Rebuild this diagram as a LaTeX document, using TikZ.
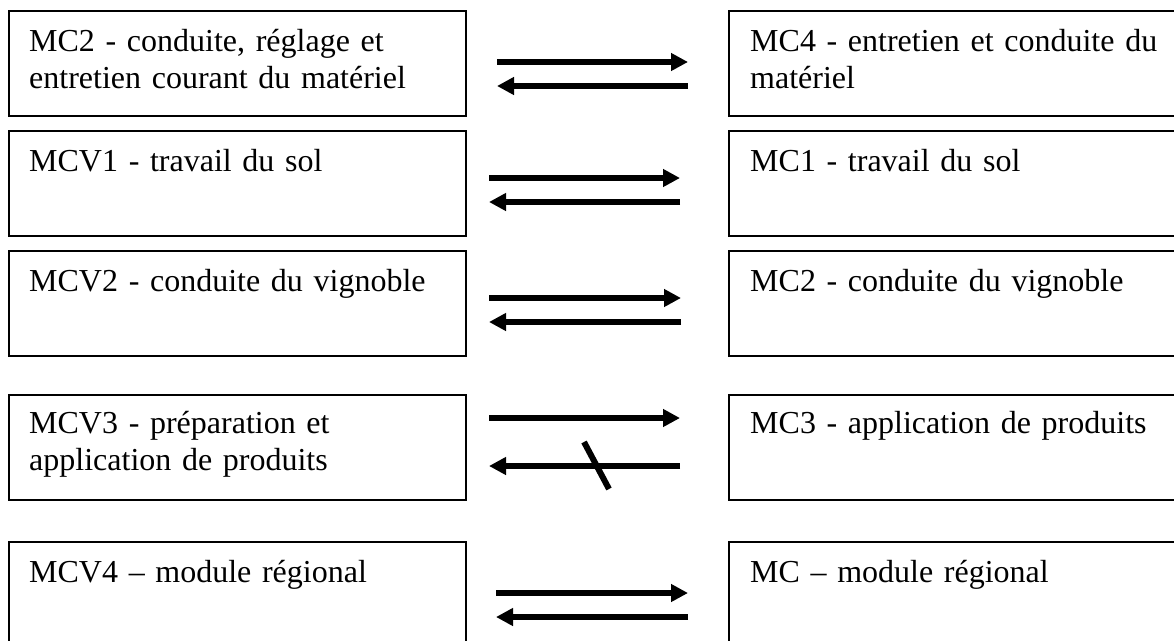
\documentclass[tikz,border=0pt]{standalone}
\usepackage{fontspec}
\setmainfont{Liberation Serif}
\usetikzlibrary{arrows.meta,calc}
\begin{document}
\begin{tikzpicture}[x=1pt,y=-1pt,
  box/.style={draw=black,line width=2pt,minimum width=457pt,minimum height=105pt,anchor=north west,inner sep=0pt},
  rbox/.style={box,minimum width=470pt},
  txt/.style={anchor=base west,inner sep=0pt,align=left,text width=440pt,
    font=\fontsize{32}{37}\selectfont},
  arr/.style={line width=6pt,-{Triangle[length=17pt,width=17pt]}},
  slash/.style={line width=6pt}]
\useasboundingbox (0,0) rectangle (1174,640);
\clip (0,0) rectangle (1174,640);
% left boxes
\node[box] (l1) at (8,10) {};
\node[box] (l2) at (8,130) {};
\node[box] (l3) at (8,250) {};
\node[box] (l4) at (8,394) {};
\node[box] (l5) at (8,541) {};
% right boxes
\node[rbox] (r1) at (728,10) {};
\node[rbox] (r2) at (728,130) {};
\node[rbox] (r3) at (728,250) {};
\node[rbox] (r4) at (728,394) {};
\node[rbox] (r5) at (728,541) {};
% texts
\node[txt] (tl1) at ($(l1.north west)+(21,41)$) {MC2 - conduite, réglage et\\entretien courant du matériel};
\node[txt] (tl2) at ($(l2.north west)+(21,41)$) {MCV1 - travail du sol};
\node[txt] (tl3) at ($(l3.north west)+(21,41)$) {MCV2 - conduite du vignoble};
\node[txt] (tl4) at ($(l4.north west)+(21,39)$) {MCV3 - préparation et\\application de produits};
\node[txt] (tl5) at ($(l5.north west)+(21,41)$) {MCV4 – module régional};
\node[txt] (tr1) at ($(r1.north west)+(22,41)$) {MC4 - entretien et conduite du\\matériel};
\node[txt] (tr2) at ($(r2.north west)+(22,41)$) {MC1 - travail du sol};
\node[txt] (tr3) at ($(r3.north west)+(22,41)$) {MC2 - conduite du vignoble};
\node[txt] (tr4) at ($(r4.north west)+(22,39)$) {MC3 - application de produits};
\node[txt] (tr5) at ($(r5.north west)+(22,41)$) {MC – module régional};
% arrow end points
\coordinate (a1l) at (497,62);  \coordinate (a1r) at (688,62);
\coordinate (b1l) at (497,86);  \coordinate (b1r) at (688,86);
\coordinate (a2l) at (489,178); \coordinate (a2r) at (680,178);
\coordinate (b2l) at (489,202); \coordinate (b2r) at (680,202);
\coordinate (a3l) at (489,298); \coordinate (a3r) at (681,298);
\coordinate (b3l) at (489,322); \coordinate (b3r) at (681,322);
\coordinate (a4l) at (489,418); \coordinate (a4r) at (680,418);
\coordinate (b4l) at (489,466); \coordinate (b4r) at (680,466);
\coordinate (s1) at (584,442);  \coordinate (s2) at (609,489);
\coordinate (a5l) at (496,593); \coordinate (a5r) at (688,593);
\coordinate (b5l) at (496,617); \coordinate (b5r) at (688,617);
% arrows
\draw[arr] (a1l) -- (a1r); \draw[arr] (b1r) -- (b1l);
\draw[arr] (a2l) -- (a2r); \draw[arr] (b2r) -- (b2l);
\draw[arr] (a3l) -- (a3r); \draw[arr] (b3r) -- (b3l);
\draw[arr] (a4l) -- (a4r); \draw[arr] (b4r) -- (b4l);
\draw[slash] (s1) -- (s2);
\draw[arr] (a5l) -- (a5r); \draw[arr] (b5r) -- (b5l);
\end{tikzpicture}
\end{document}
